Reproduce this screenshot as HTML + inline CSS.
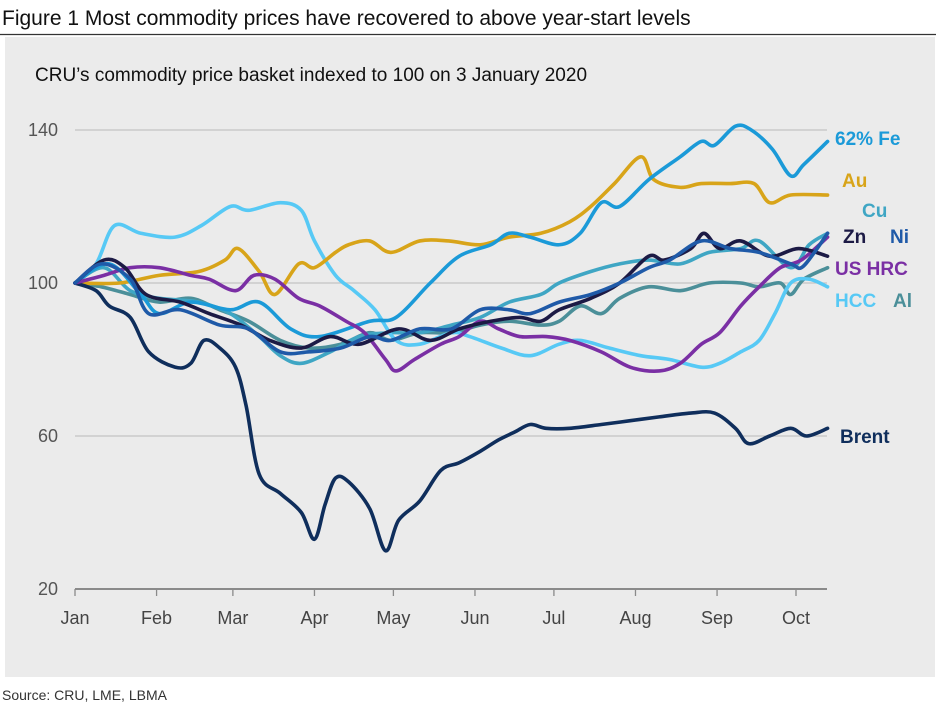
<!DOCTYPE html>
<html><head><meta charset="utf-8"><style>
body{margin:0;background:#fff;width:936px;height:716px;overflow:hidden;font-family:"Liberation Sans",Arial,sans-serif}
</style></head><body>
<svg id="chart" width="936" height="716" xmlns="http://www.w3.org/2000/svg" font-family="Liberation Sans, Arial, sans-serif">
<text x="2" y="25" font-size="21" fill="#111">Figure 1 Most commodity prices have recovered to above year-start levels</text>
<line x1="0" y1="34.5" x2="936" y2="34.5" stroke="#333" stroke-width="1.2"/>
<rect x="5" y="37" width="930" height="640" fill="#ebebeb"/>
<text x="35" y="81" font-size="19" fill="#111">CRU’s commodity price basket indexed to 100 on 3 January 2020</text>
<g id="grid"></g><g id="lines"></g><g id="labels"></g>
<text x="2" y="700" font-size="14" fill="#333">Source: CRU, LME, LBMA</text>
</svg>
<script>
const yTicks=[20,60,100,140];
const months=["Jan","Feb","Mar","Apr","May","Jun","Jul","Aug","Sep","Oct"];
const monthDays=[0,31,60,91,121,152,182,213,244,274];
const endDay=286;
const feDays=[0,13,25,32,44,59,70,82,93,112,122,135,146,158,165,173,184,192,200,207,218,230,238,243,251,257,265,272,277,286];
const feVals=[100,105,97,92,95,93,95,88,86,90,91,100,107,110,113,112,110,113,121,120,127,133,137,136,141,140,135,128,131,137];
const auDays=[0,17,32,47,57,62,70,76,85,91,99,104,112,120,131,142,154,165,177,188,196,205,215,220,230,238,249,258,264,272,286];
const auVals=[100,100,102,103,106,109,103,97,105,104,108,110,111,108,111,111,110,112,113,116,120,126,133,127,125,126,126,126,121,123,123];
const cuDays=[0,11,21,32,47,59,70,78,86,97,108,120,131,143,154,165,177,184,196,207,218,230,241,253,260,272,279,286];
const cuVals=[100,104,98,96,95,92,86,81,79,82,86,87,87,89,91,95,97,100,103,105,106,105,108,109,111,104,110,113];
const znDays=[0,11,19,27,40,51,63,74,86,97,108,123,135,146,158,169,177,184,196,207,218,224,234,239,245,253,264,275,286];
const znVals=[100,106,104,97,95,92,89,85,83,86,84,88,85,88,90,91,90,93,96,100,107,106,109,113,109,111,107,109,107];
const niDays=[0,10,21,28,40,55,66,78,89,101,112,120,131,143,154,165,173,184,196,207,218,226,238,249,260,272,276,281,286];
const niVals=[100,105,101,92,93,89,88,82,82,83,86,85,88,88,93,93,92,95,97,100,104,106,111,109,108,105,104,108,113];
const hrcDays=[0,11,21,32,44,51,61,68,76,85,93,103,110,118,122,129,139,146,154,161,169,179,188,200,211,222,230,238,245,253,260,268,276,286];
const hrcVals=[100,102,104,104,102,101,98,102,101,96,94,90,87,80,77,80,84,86,90,88,86,86,85,82,78,77,79,84,87,94,99,104,106,112];
const hccDays=[0,8,15,25,38,48,59,66,78,86,91,99,106,114,122,131,143,150,162,173,184,192,203,215,226,238,245,253,260,266,272,279,286];
const hccVals=[100,105,115,113,112,115,120,119,121,119,111,102,98,93,85,84,87,86,83,81,84,85,83,81,80,78,79,82,85,92,100,101,99];
const alDays=[0,10,21,32,44,55,66,78,89,101,112,120,131,143,154,165,177,184,192,200,207,218,230,241,253,260,268,272,277,286];
const alVals=[100,99,97,95,96,93,90,85,83,84,87,85,87,87,89,90,89,90,94,92,96,99,98,100,100,99,100,97,101,104];
const brentDays=[0,8,13,21,28,38,44,49,55,61,65,70,78,86,91,95,99,104,112,118,123,131,139,146,154,161,167,173,179,188,200,211,222,234,243,251,256,264,272,278,286];
const brentVals=[100,98,94,91,82,78,79,85,83,78,68,50,45,40,33,42,49,48,41,30,38,43,51,53,56,59,61,63,62,62,63,64,65,66,66,62,58,60,62,60,62];
const series=[
 ["al",alDays,alVals,"#4b8f99"],["cu",cuDays,cuVals,"#3fa6c4"],["hcc",hccDays,hccVals,"#57c9f5"],
 ["au",auDays,auVals,"#d8a419"],["fe",feDays,feVals,"#1b9ad8"],["brent",brentDays,brentVals,"#0f2e5c"],
 ["hrc",hrcDays,hrcVals,"#7a2fa4"],["zn",znDays,znVals,"#1c1a45"],["ni",niDays,niVals,"#1f5aa8"]];
const labelText=["62% Fe","Au","Cu","Zn","Ni","US HRC","HCC","Al","Brent"];
const labelColor=["#1b9ad8","#d8a419","#3fa6c4","#1c1a45","#1f5aa8","#7a2fa4","#57c9f5","#4b8f99","#0f2e5c"];
const labelX=[835,842,862,843,890,835,835,893,840];
const labelY=[145,187,217,243,243,275,307,307,443];
const NS="http://www.w3.org/2000/svg";
const x=d=>75+d*(721/274);
const y=v=>283-(v-100)*3.825;
function mk(t,a,p){const e=document.createElementNS(NS,t);for(const k in a)e.setAttribute(k,a[k]);p.appendChild(e);return e;}
const grid=document.getElementById('grid');
yTicks.forEach(t=>{
 const ln=mk('line',{x1:75,x2:827,y1:y(t),y2:y(t),stroke:t===20?'#8a8a8a':'#c4c4c4','stroke-width':t===20?2:1.3},grid);
 
 
 const tx=mk('text',{x:58,y:y(t)+6,'text-anchor':'end','font-size':18,fill:'#555'},grid);tx.textContent=t;
 
 
});
months.forEach((m,i)=>{
 const tk=mk('line',{x1:x(monthDays[i]),x2:x(monthDays[i]),y1:589,y2:596,stroke:'#8a8a8a','stroke-width':1.3},grid);
 
 
 const tx=mk('text',{x:x(monthDays[i]),y:624,'text-anchor':'middle','font-size':18,fill:'#444'},grid);tx.textContent=m;
 
 
});
function path(ds,vs){const p=ds.map((d,i)=>[x(d),y(vs[i])]);let s='M'+p[0][0]+','+p[0][1];
 for(let i=0;i<p.length-1;i++){const p0=p[i-1]||p[i],p1=p[i],p2=p[i+1],p3=p[i+2]||p2;
  s+=` C${p1[0]+(p2[0]-p0[0])/6},${p1[1]+(p2[1]-p0[1])/6} ${p2[0]-(p3[0]-p1[0])/6},${p2[1]-(p3[1]-p1[1])/6} ${p2[0]},${p2[1]}`;}
 return s;}
const lines=document.getElementById('lines');
series.forEach(s=>{const e=mk('path',{d:path(s[1],s[2]),fill:'none',stroke:s[3],'stroke-width':3.6,'stroke-linejoin':'round','stroke-linecap':'round'},lines);
 
 });
const labels=document.getElementById('labels');
labelText.forEach((t,i)=>{const e=mk('text',{x:labelX[i],y:labelY[i],'font-size':19,'font-weight':'bold',fill:labelColor[i]},labels);e.textContent=t;
 
 });
</script>
</body></html>
